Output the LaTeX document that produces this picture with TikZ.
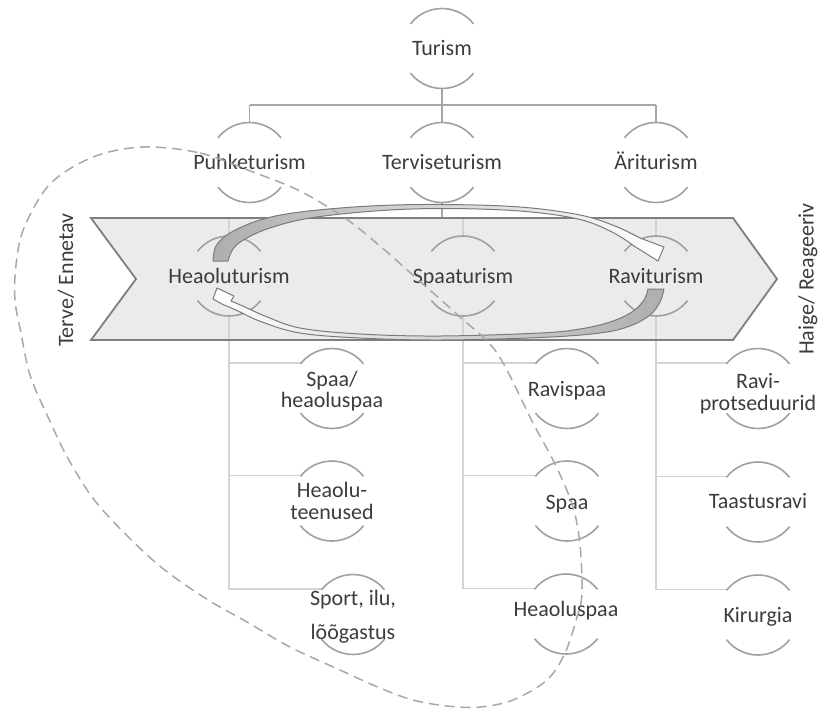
\documentclass[tikz,border=0pt]{standalone}
\usepackage{fontspec}
\setmainfont{Carlito}
\definecolor{txt}{HTML}{3C3C3C}
\definecolor{arcc}{HTML}{A0A0A0}
\definecolor{conn}{HTML}{A6A6A6}
\definecolor{lconn}{HTML}{D3D3D3}
\definecolor{bandfill}{HTML}{EBEBEB}
\definecolor{bandline}{HTML}{7F7F7F}
\definecolor{dashc}{HTML}{A8A8A8}
\definecolor{arrline}{HTML}{7A7A7A}
\definecolor{arrfill}{HTML}{AEAEAE}
\newcommand{\brackarcs}[1]{%
  \draw[arcline] (#1.38) arc[start angle=38,end angle=142,radius=40pt];
  \draw[arcline] (#1.218) arc[start angle=218,end angle=322,radius=40pt];}
\newcommand{\twoline}[3]{\parbox[t]{150pt}{\centering\fontsize{22}{#3}\selectfont #1\\#2}}
\begin{document}
\begin{tikzpicture}[x=1pt,y=1pt,
  circ/.style={circle,minimum size=80pt,inner sep=0pt,outer sep=0pt},
  arcline/.style={draw=arcc,line width=1.6pt},
  lbl/.style={text=txt,inner sep=0pt,anchor=base,font=\fontsize{22}{21.5}\selectfont},
  connA/.style={draw=conn,line width=1.5pt},
  connB/.style={draw=lconn,line width=1.5pt},
  arrowband/.style={draw=arrline,line width=1pt,line join=round},
  dashline/.style={draw=dashc,line width=1.5pt,dash pattern=on 10pt off 6pt}]
\useasboundingbox (0,0) rectangle (819,-713);
% banner fill
\fill[bandfill] (91,-218) -- (733,-218) -- (777,-279) -- (733,-340) -- (91,-340) -- (136,-279) -- cycle;
% circle nodes
\node[circ] (turism) at (442,-48.5) {};
\node[circ] (puhke) at (249.5,-162.5) {};
\node[circ] (tervise) at (442,-162.5) {};
\node[circ] (ari) at (656,-162.5) {};
\node[circ] (heaolu) at (229,-276) {};
\node[circ] (spaat) at (463,-276) {};
\node[circ] (ravit) at (656,-276) {};
\node[circ] (c1a) at (332,-388.5) {};
\node[circ] (c1b) at (332,-501) {};
\node[circ] (c1c) at (353,-614.5) {};
\node[circ] (c2a) at (567,-388.5) {};
\node[circ] (c2b) at (567,-501) {};
\node[circ] (c2c) at (566,-614) {};
\node[circ] (c3a) at (758,-388.5) {};
\node[circ] (c3b) at (758,-502) {};
\node[circ] (c3c) at (758,-615) {};
% connectors level 1-2
\draw[connA] (turism.south) -- ++(0,-16.5) coordinate (h1);
\draw[connA] (puhke.north |- h1) -- (ari.north |- h1);
\draw[connA] (puhke.north |- h1) -- (puhke.north);
\draw[connA] (tervise.north |- h1) -- (tervise.north);
\draw[connA] (ari.north |- h1) -- (ari.north);
% connectors level 2-3
\draw[connA] (tervise.south) -- ++(0,-15.5) coordinate (h2);
\draw[connB] (heaolu.north |- h2) -- (ravit.north |- h2);
\draw[connB] (heaolu.north |- h2) -- (heaolu.north);
\draw[connB] (spaat.north |- h2) -- (spaat.north);
\draw[connB] (ravit.north |- h2) -- (ravit.north);
% connectors level 3-4
\draw[connB] (heaolu.south) -- (heaolu.south |- c1c.140) -- (c1c.140);
\draw[connB] (heaolu.south |- c1a.140) -- (c1a.140);
\draw[connB] (heaolu.south |- c1b.140) -- (c1b.140);
\draw[connB] (spaat.south) -- (spaat.south |- c2c.140) -- (c2c.140);
\draw[connB] (spaat.south |- c2a.140) -- (c2a.140);
\draw[connB] (spaat.south |- c2b.140) -- (c2b.140);
\draw[connB] (ravit.south) -- (ravit.south |- c3c.140) -- (c3c.140);
\draw[connB] (ravit.south |- c3a.140) -- (c3a.140);
\draw[connB] (ravit.south |- c3b.140) -- (c3b.140);
% banner outline
\draw[bandline,line width=1.8pt,line join=miter] (91,-218) -- (733,-218) -- (777,-279) -- (733,-340) -- (91,-340) -- (136,-279) -- cycle;
% bracket arcs
\foreach \n in {turism,puhke,tervise,ari,heaolu,spaat,ravit,c1a,c1b,c1c,c2a,c2b,c2c,c3a,c3b,c3c}{\brackarcs{\n}}
% texts
\node[lbl] (tturism) at (442,-55) {Turism};
\node[lbl] (tpuhke) at (249.5,-169.5) {Puhketurism};
\node[lbl] (ttervise) at (442,-169.5) {Terviseturism};
\node[lbl] (tari) at (656,-169.5) {Äriturism};
\node[lbl] (theaolu) at (229,-283.5) {Heaoluturism};
\node[lbl] (tspaat) at (463,-283.5) {Spaaturism};
\node[lbl] (travit) at (656,-283.5) {Raviturism};
\node[lbl] (tc1a) at (332,-386) {\twoline{Spaa/}{heaoluspaa}{21.5}};
\node[lbl] (tc1b) at (332,-497.5) {\twoline{Heaolu-}{teenused}{21.5}};
\node[lbl] (tc1c) at (353,-605) {\twoline{Sport, ilu,}{lõõgastus}{34}};
\node[lbl] (tc2a) at (567,-396) {Ravispaa};
\node[lbl] (tc2b) at (567,-509) {Spaa};
\node[lbl] (tc2c) at (566,-616.5) {Heaoluspaa};
\node[lbl] (tc3a) at (758,-388.5) {\twoline{Ravi-}{protseduurid}{21.5}};
\node[lbl] (tc3b) at (758,-508.5) {Taastusravi};
\node[lbl] (tc3c) at (758,-622.5) {Kirurgia};
\node[lbl,rotate=90] (terve) at (73,-280) {Terve/ Ennetav};
\node[lbl,rotate=90] (haige) at (813.5,-279) {Haige/ Reageeriv};
% circular arrows
\path[arrowband,left color=arrfill,right color=white]
  plot[smooth,tension=0.6] coordinates {(213,-261) (216,-246) (230,-233) (260,-220) (300,-212) (370,-206) (442,-204.5) (520,-207) (580,-215) (615,-226) (640,-238)}
  -- (664,-247) -- (658,-261) -- (634,-246)
  -- plot[smooth,tension=0.6] coordinates {(634,-246) (612,-232) (578,-219) (520,-211) (442,-208.5) (375,-211) (310,-218) (270,-228) (245,-239) (233,-249) (228,-261)}
  -- cycle;
\path[arrowband,left color=white,right color=arrfill]
  plot[smooth,tension=0.6] coordinates {(664,-289) (660,-302) (650,-315) (630,-326) (600,-333) (540,-337.5) (440,-340) (360,-338) (300,-333) (262,-322) (238,-311) (222,-304)}
  -- (213,-299) -- (217,-288) -- (234,-296) -- (231,-301)
  -- plot[smooth,tension=0.6] coordinates {(231,-301) (245,-307) (265,-316) (300,-328) (360,-334) (440,-336) (540,-333) (580,-329) (610,-322) (632,-312) (644,-300) (648,-289)}
  -- cycle;
% dashed loop
\draw[dashline] plot[smooth cycle,tension=0.55] coordinates {
  (143,-147) (200,-153) (253,-172) (300,-191) (345,-218) (380,-246) (415,-277) (460,-317)
  (497,-353) (533,-423) (556,-466) (573,-507) (580,-545) (582,-593) (577,-617) (565,-653)
  (547,-680) (513,-700) (480,-707) (447,-706) (413,-700) (380,-688) (340,-670) (290,-647)
  (247,-622) (205,-598) (155,-562) (100,-507) (70,-462) (48,-417) (30,-375) (21,-333)
  (15,-300) (16,-265) (24,-228) (50,-184) (93,-157)};
\end{tikzpicture}
\end{document}
